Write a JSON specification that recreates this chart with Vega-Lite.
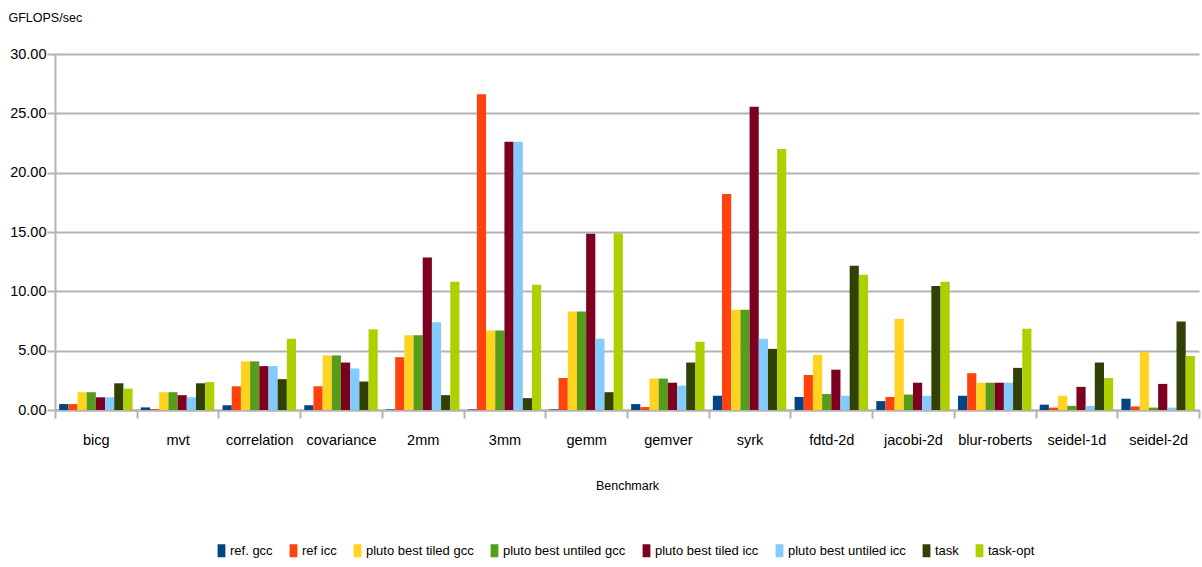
{
  "$schema": "https://vega.github.io/schema/vega-lite/v6.json",
  "autosize": {"type": "none"},
  "width": 1144,
  "height": 356,
  "padding": {"left": 55, "top": 54, "right": 3, "bottom": 157},
  "background": "white",
  "config": {
    "font": "Liberation Sans, Arial, sans-serif",
    "view": {"stroke": null}
  },
  "datasets": {
    "raw": [
      {"b": "bicg", "s": "ref. gcc", "v": 0.5}, {"b": "bicg", "s": "ref icc", "v": 0.5}, {"b": "bicg", "s": "pluto best tiled gcc", "v": 1.5}, {"b": "bicg", "s": "pluto best untiled gcc", "v": 1.5}, {"b": "bicg", "s": "pluto best tiled icc", "v": 1.07}, {"b": "bicg", "s": "pluto best untiled icc", "v": 1.07}, {"b": "bicg", "s": "task", "v": 2.25}, {"b": "bicg", "s": "task-opt", "v": 1.8},
      {"b": "mvt", "s": "ref. gcc", "v": 0.22}, {"b": "mvt", "s": "ref icc", "v": 0.08}, {"b": "mvt", "s": "pluto best tiled gcc", "v": 1.5}, {"b": "mvt", "s": "pluto best untiled gcc", "v": 1.5}, {"b": "mvt", "s": "pluto best tiled icc", "v": 1.25}, {"b": "mvt", "s": "pluto best untiled icc", "v": 1.07}, {"b": "mvt", "s": "task", "v": 2.25}, {"b": "mvt", "s": "task-opt", "v": 2.35},
      {"b": "correlation", "s": "ref. gcc", "v": 0.4}, {"b": "correlation", "s": "ref icc", "v": 2.0}, {"b": "correlation", "s": "pluto best tiled gcc", "v": 4.1}, {"b": "correlation", "s": "pluto best untiled gcc", "v": 4.1}, {"b": "correlation", "s": "pluto best tiled icc", "v": 3.7}, {"b": "correlation", "s": "pluto best untiled icc", "v": 3.7}, {"b": "correlation", "s": "task", "v": 2.6}, {"b": "correlation", "s": "task-opt", "v": 6.0},
      {"b": "covariance", "s": "ref. gcc", "v": 0.4}, {"b": "covariance", "s": "ref icc", "v": 2.0}, {"b": "covariance", "s": "pluto best tiled gcc", "v": 4.6}, {"b": "covariance", "s": "pluto best untiled gcc", "v": 4.6}, {"b": "covariance", "s": "pluto best tiled icc", "v": 4.0}, {"b": "covariance", "s": "pluto best untiled icc", "v": 3.5}, {"b": "covariance", "s": "task", "v": 2.4}, {"b": "covariance", "s": "task-opt", "v": 6.8},
      {"b": "2mm", "s": "ref. gcc", "v": 0.05}, {"b": "2mm", "s": "ref icc", "v": 4.45}, {"b": "2mm", "s": "pluto best tiled gcc", "v": 6.3}, {"b": "2mm", "s": "pluto best untiled gcc", "v": 6.3}, {"b": "2mm", "s": "pluto best tiled icc", "v": 12.85}, {"b": "2mm", "s": "pluto best untiled icc", "v": 7.4}, {"b": "2mm", "s": "task", "v": 1.25}, {"b": "2mm", "s": "task-opt", "v": 10.8},
      {"b": "3mm", "s": "ref. gcc", "v": 0.05}, {"b": "3mm", "s": "ref icc", "v": 26.6}, {"b": "3mm", "s": "pluto best tiled gcc", "v": 6.7}, {"b": "3mm", "s": "pluto best untiled gcc", "v": 6.7}, {"b": "3mm", "s": "pluto best tiled icc", "v": 22.6}, {"b": "3mm", "s": "pluto best untiled icc", "v": 22.6}, {"b": "3mm", "s": "task", "v": 1.0}, {"b": "3mm", "s": "task-opt", "v": 10.55},
      {"b": "gemm", "s": "ref. gcc", "v": 0.05}, {"b": "gemm", "s": "ref icc", "v": 2.7}, {"b": "gemm", "s": "pluto best tiled gcc", "v": 8.3}, {"b": "gemm", "s": "pluto best untiled gcc", "v": 8.3}, {"b": "gemm", "s": "pluto best tiled icc", "v": 14.85}, {"b": "gemm", "s": "pluto best untiled icc", "v": 6.0}, {"b": "gemm", "s": "task", "v": 1.5}, {"b": "gemm", "s": "task-opt", "v": 14.9},
      {"b": "gemver", "s": "ref. gcc", "v": 0.5}, {"b": "gemver", "s": "ref icc", "v": 0.25}, {"b": "gemver", "s": "pluto best tiled gcc", "v": 2.65}, {"b": "gemver", "s": "pluto best untiled gcc", "v": 2.65}, {"b": "gemver", "s": "pluto best tiled icc", "v": 2.3}, {"b": "gemver", "s": "pluto best untiled icc", "v": 2.05}, {"b": "gemver", "s": "task", "v": 4.0}, {"b": "gemver", "s": "task-opt", "v": 5.75},
      {"b": "syrk", "s": "ref. gcc", "v": 1.2}, {"b": "syrk", "s": "ref icc", "v": 18.2}, {"b": "syrk", "s": "pluto best tiled gcc", "v": 8.45}, {"b": "syrk", "s": "pluto best untiled gcc", "v": 8.45}, {"b": "syrk", "s": "pluto best tiled icc", "v": 25.55}, {"b": "syrk", "s": "pluto best untiled icc", "v": 6.0}, {"b": "syrk", "s": "task", "v": 5.15}, {"b": "syrk", "s": "task-opt", "v": 22.0},
      {"b": "fdtd-2d", "s": "ref. gcc", "v": 1.1}, {"b": "fdtd-2d", "s": "ref icc", "v": 2.95}, {"b": "fdtd-2d", "s": "pluto best tiled gcc", "v": 4.65}, {"b": "fdtd-2d", "s": "pluto best untiled gcc", "v": 1.35}, {"b": "fdtd-2d", "s": "pluto best tiled icc", "v": 3.4}, {"b": "fdtd-2d", "s": "pluto best untiled icc", "v": 1.2}, {"b": "fdtd-2d", "s": "task", "v": 12.15}, {"b": "fdtd-2d", "s": "task-opt", "v": 11.4},
      {"b": "jacobi-2d", "s": "ref. gcc", "v": 0.75}, {"b": "jacobi-2d", "s": "ref icc", "v": 1.1}, {"b": "jacobi-2d", "s": "pluto best tiled gcc", "v": 7.7}, {"b": "jacobi-2d", "s": "pluto best untiled gcc", "v": 1.3}, {"b": "jacobi-2d", "s": "pluto best tiled icc", "v": 2.3}, {"b": "jacobi-2d", "s": "pluto best untiled icc", "v": 1.2}, {"b": "jacobi-2d", "s": "task", "v": 10.45}, {"b": "jacobi-2d", "s": "task-opt", "v": 10.8},
      {"b": "blur-roberts", "s": "ref. gcc", "v": 1.2}, {"b": "blur-roberts", "s": "ref icc", "v": 3.1}, {"b": "blur-roberts", "s": "pluto best tiled gcc", "v": 2.3}, {"b": "blur-roberts", "s": "pluto best untiled gcc", "v": 2.3}, {"b": "blur-roberts", "s": "pluto best tiled icc", "v": 2.3}, {"b": "blur-roberts", "s": "pluto best untiled icc", "v": 2.3}, {"b": "blur-roberts", "s": "task", "v": 3.55}, {"b": "blur-roberts", "s": "task-opt", "v": 6.85},
      {"b": "seidel-1d", "s": "ref. gcc", "v": 0.45}, {"b": "seidel-1d", "s": "ref icc", "v": 0.2}, {"b": "seidel-1d", "s": "pluto best tiled gcc", "v": 1.2}, {"b": "seidel-1d", "s": "pluto best untiled gcc", "v": 0.35}, {"b": "seidel-1d", "s": "pluto best tiled icc", "v": 1.95}, {"b": "seidel-1d", "s": "pluto best untiled icc", "v": 0.35}, {"b": "seidel-1d", "s": "task", "v": 4.0}, {"b": "seidel-1d", "s": "task-opt", "v": 2.7},
      {"b": "seidel-2d", "s": "ref. gcc", "v": 0.95}, {"b": "seidel-2d", "s": "ref icc", "v": 0.3}, {"b": "seidel-2d", "s": "pluto best tiled gcc", "v": 4.9}, {"b": "seidel-2d", "s": "pluto best untiled gcc", "v": 0.2}, {"b": "seidel-2d", "s": "pluto best tiled icc", "v": 2.2}, {"b": "seidel-2d", "s": "pluto best untiled icc", "v": 0.2}, {"b": "seidel-2d", "s": "task", "v": 7.45}, {"b": "seidel-2d", "s": "task-opt", "v": 4.55}
    ]
  },
  "data": {"name": "raw"},
  "mark": {"type": "bar"},
  "encoding": {
    "x": {
      "field": "b",
      "type": "nominal",
      "sort": null,
      "scale": {"paddingInner": 0, "paddingOuter": 0},
      "axis": {
        "title": "Benchmark",
        "titleFontSize": 12.5,
        "titleFontWeight": "normal",
        "titleColor": "#000000",
        "titleY": 75,
        "titleBaseline": "middle",
        "labelAngle": 0,
        "labelFontSize": 14.5,
        "labelColor": "#000000",
        "labelPadding": 15,
        "tickBand": "extent",
        "tickSize": 8,
        "tickColor": "#b3b3b3",
        "tickWidth": 2,
        "domainColor": "#b3b3b3",
        "domainWidth": 2,
        "grid": false
      }
    },
    "xOffset": {
      "field": "s",
      "type": "nominal",
      "sort": ["ref. gcc", "ref icc", "pluto best tiled gcc", "pluto best untiled gcc", "pluto best tiled icc", "pluto best untiled icc", "task", "task-opt"],
      "scale": {"paddingInner": 0, "paddingOuter": 0.45}
    },
    "y": {
      "field": "v",
      "type": "quantitative",
      "scale": {"domain": [0, 30], "nice": false},
      "axis": {
        "values": [0, 5, 10, 15, 20, 25, 30],
        "format": ".2f",
        "title": "GFLOPS/sec",
        "titleAngle": 0,
        "titleAlign": "left",
        "titleBaseline": "middle",
        "titleX": -47,
        "titleY": -37,
        "titleFontSize": 12.5,
        "titleFontWeight": "normal",
        "titleColor": "#000000",
        "labelFontSize": 14.5,
        "labelColor": "#000000",
        "labelPadding": 1,
        "tickSize": 8,
        "tickColor": "#b3b3b3",
        "tickWidth": 2,
        "gridColor": "#b3b3b3",
        "gridWidth": 2,
        "gridOpacity": 1,
        "domainColor": "#b3b3b3",
        "domainWidth": 2
      }
    },
    "color": {
      "field": "s",
      "type": "nominal",
      "sort": ["ref. gcc", "ref icc", "pluto best tiled gcc", "pluto best untiled gcc", "pluto best tiled icc", "pluto best untiled icc", "task", "task-opt"],
      "scale": {
        "domain": ["ref. gcc", "ref icc", "pluto best tiled gcc", "pluto best untiled gcc", "pluto best tiled icc", "pluto best untiled icc", "task", "task-opt"],
        "range": ["#004586", "#ff420e", "#ffd320", "#579d1c", "#7e0021", "#83caff", "#314004", "#aecf00"]
      },
      "legend": {
        "title": null,
        "orient": "none",
        "direction": "horizontal",
        "columns": 8,
        "legendX": 160,
        "legendY": 490,
        "symbolType": "M-0.6,-1H0.6V1H-0.6Z",
        "symbolSize": 169,
        "symbolStrokeWidth": 0,
        "symbolOpacity": 1,
        "labelFontSize": 13,
        "labelColor": "#000000",
        "labelOffset": 2,
        "columnPadding": 14
      }
    }
  }
}
